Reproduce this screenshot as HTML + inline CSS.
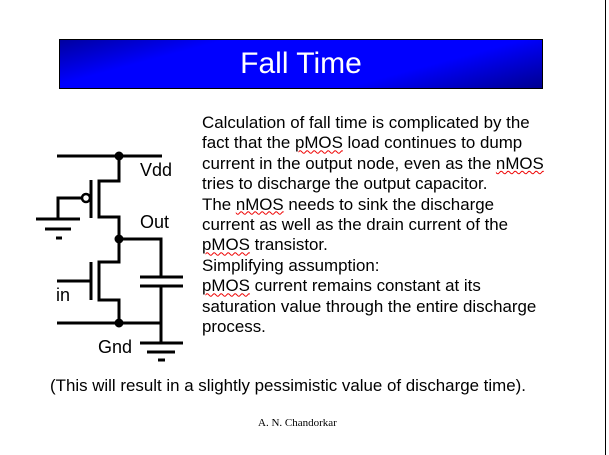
<!DOCTYPE html>
<html><head><style>
body{margin:0;width:609px;height:455px;background:#fff;position:relative;overflow:hidden;font-family:"Liberation Sans",Arial,sans-serif}
.banner{position:absolute;left:59px;top:39px;width:482px;height:48px;border:1px solid #000;background:linear-gradient(165deg,#0000a0 0%,#0000ff 25%,#0000ff 70%,#000090 100%);color:#fff;font-size:30px;text-align:center;line-height:47px}
.txt{position:absolute;left:202px;top:113px;font-size:16.9px;line-height:20.4px;color:#000;white-space:pre}
.u{text-decoration:underline wavy #e00;text-decoration-thickness:1px}
.lbl{position:absolute;font-size:18px}
</style></head><body>
<div style="position:absolute;left:605px;top:0;width:1px;height:455px;background:#000"></div>
<div class="banner">Fall Time</div>
<div class="txt">Calculation of fall time is complicated by the
fact that the <span class="u">pMOS</span> load continues to dump
current in the output node, even as the <span class="u">nMOS</span>
tries to discharge the output capacitor.
The <span class="u">nMOS</span> needs to sink the discharge
current as well as the drain current of the
<span class="u">pMOS</span> transistor.
Simplifying assumption:
<span class="u">pMOS</span> current remains constant at its
saturation value through the entire discharge
process.</div>
<div style="position:absolute;left:50px;top:376px;font-size:16.9px">(This will result in a slightly pessimistic value of discharge time).</div>
<div style="position:absolute;left:258px;top:417px;font-size:11px;font-family:'Liberation Serif',serif">A. N. Chandorkar</div>
<svg width="609" height="455" style="position:absolute;left:0;top:0" fill="none" stroke="#000" stroke-width="3">
<path d="M57 156H162M119 156V181H99V217H119V262H99V300H119V323M91 180V218M91 262V300M57 281H91"/>
<circle cx="86" cy="198" r="4" stroke-width="2.5"/>
<path d="M82 198H58V219M36 219H80M45 229H71M56 238H62"/>
<path d="M119 239H161V277M140 277H183M140 286H183M161 286V343M57 323H162M140 343H183M147 352H175M158 360H165"/>
<circle cx="119" cy="156" r="3" fill="#000"/><circle cx="119" cy="239" r="3" fill="#000"/><circle cx="119" cy="323" r="3" fill="#000"/>
</svg>
<div class="lbl" style="left:140px;top:160px">Vdd</div>
<div class="lbl" style="left:140px;top:212px">Out</div>
<div class="lbl" style="left:56px;top:285px">in</div>
<div class="lbl" style="left:98px;top:337px">Gnd</div>
</body></html>
